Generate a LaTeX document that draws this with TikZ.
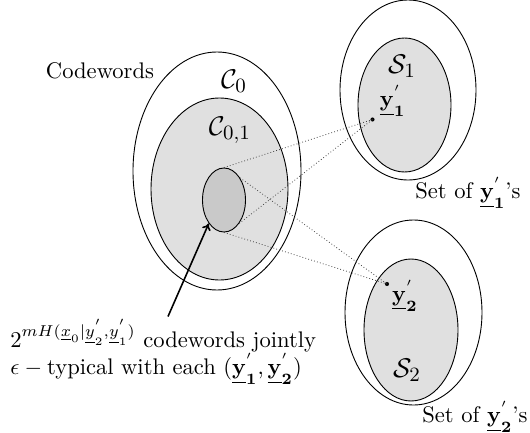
\documentclass[tikz,border=0pt]{standalone}
\usetikzlibrary{shapes.geometric,arrows.meta}
\definecolor{setfill}{gray}{0.88}
\definecolor{corefill}{gray}{0.79}
\begin{document}
\begin{tikzpicture}[x=0.443pt,y=-0.443pt,
  blob/.style args={#1/#2}{draw, ellipse, inner sep=0pt,
    minimum width={2*#1*0.443pt}, minimum height={2*#2*0.443pt}},
  setname/.style={font=\fontsize{13}{15}\selectfont},
  pt/.style={circle, fill, inner sep=0pt, minimum size=1.8pt},
  link/.style={densely dotted, black!75, line width=0.35pt},
  pointer/.style={-{To[length=3pt,width=4pt]}, line width=0.7pt}]
\useasboundingbox (0,0) rectangle (530,433);

% codeword sets
\node[blob=84/119] (C0) at (217,171) {};
\node[blob=68.5/91, fill=setfill] (C01) at (219.5,189) {};
\node[blob=21.5/32, fill=corefill] (core) at (224,200) {};

% output sets
\node[blob=68/90] (S1out) at (408,90) {};
\node[blob=46.5/67, fill=setfill] (S1) at (404.5,105) {};
\node[blob=68.5/92.5] (S2out) at (413.5,312.5) {};
\node[blob=47/71, fill=setfill] (S2) at (411,330) {};

% set labels
\node (cw) at (100,71) {Codewords};
\node[setname] (lC0) at (234,81) {$\mathcal{C}_0$};
\node[setname] (lC01) at (230,130) {$\mathcal{C}_{0,1}$};
\node[setname] (lS1) at (402,66) {$\mathcal{S}_1$};
\node[setname] (lS2) at (407,370) {$\mathcal{S}_2$};

% chosen outputs
\node[pt] (y1) at (372.5,119.5) {};
\node[pt] (y2) at (387,284) {};
\node[anchor=south west, inner sep=1pt, xshift=1pt] (ly1) at (y1.east) {$\underline{\mathbf{y}}^{'}_{\mathbf{1}}$};
\node[anchor=north west, inner sep=1pt, yshift=3pt] (ly2) at (y2.east) {$\underline{\mathbf{y}}^{'}_{\mathbf{2}}$};

\node (set1) at (468,193) {Set of $\underline{\mathbf{y}}^{'}_{\mathbf{1}}$'s};
\node (set2) at (475,417) {Set of $\underline{\mathbf{y}}^{'}_{\mathbf{2}}$'s};

% typicality links
\draw[link] (core.north) -- (y1.center);
\draw[link] (core.-57) -- (y1.center);
\draw[link] (core.54) -- (y2.center);
\draw[link] (core.south) -- (y2.center);

% explanation
\node[anchor=west, align=left, inner sep=0pt] (note) at (10,352)
  {$2^{mH(\underline{x}_0|\underline{y}^{'}_2,\underline{y}^{'}_1)}$ codewords jointly\\
   $\epsilon - \mbox{typical}$ with each $(\underline{\mathbf{y}}^{'}_{\mathbf{1}},\underline{\mathbf{y}}^{'}_{\mathbf{2}})$};
\coordinate (tail) at (168,316.5);
\draw[pointer] (tail) -- (core.-123);
\end{tikzpicture}
\end{document}
